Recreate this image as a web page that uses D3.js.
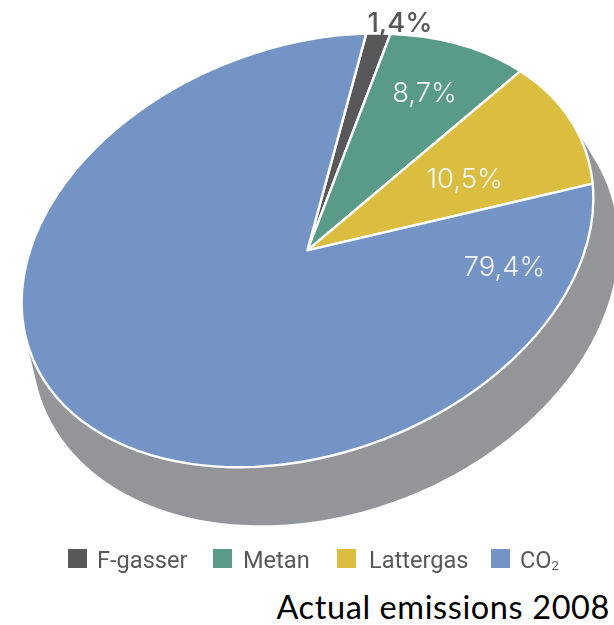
<!DOCTYPE html>
<html><head><meta charset="utf-8">
<script src="https://cdnjs.cloudflare.com/ajax/libs/d3/7.8.5/d3.min.js"></script>
<style>html,body{margin:0;padding:0;background:#fff;overflow:hidden}svg{display:block}</style>
</head><body><svg id="c" width="614" height="625"></svg>
<script>
const categories = ["F-gasser","Metan","Lattergas","CO2"];
const shares = [1.4,8.7,10.5,79.4];
const valueLabels = ["1,4%","8,7%","10,5%","79,4%"];
const colors = ["#58585a","#5a9a88","#dbbd3f","#7494c6"];
const caption = "Actual emissions 2008";

const topE={cx:307.4,cy:250.4,a:295.4,b:203.7,tilt:-20.36};
const botE={cx:325.1,cy:294.6,a:302.6,b:218,tilt:-21.13};
const startDeg=26.2;
const svg=d3.select("#c");
const defs=svg.append("defs");
defs.append("filter").attr("id","soft").append("feGaussianBlur").attr("stdDeviation",0.45);
const ring=e=>d3.range(0,360,1).map(t=>{const r=e.tilt*Math.PI/180,u=e.a*Math.cos(t*Math.PI/180),v=e.b*Math.sin(t*Math.PI/180);
  return [e.cx+u*Math.cos(r)-v*Math.sin(r),e.cy+u*Math.sin(r)+v*Math.cos(r)];});
const hull=d3.polygonHull([...ring(topE),...ring(botE)]);
svg.append("path").attr("d","M"+hull.join("L")+"Z").attr("fill","#939598");
const pie=d3.pie().sort(null).startAngle(startDeg*Math.PI/180).endAngle(startDeg*Math.PI/180+2*Math.PI);
const arc=d3.arc().innerRadius(0).outerRadius(1);
svg.append("g").attr("transform",`translate(${topE.cx},${topE.cy}) rotate(${topE.tilt}) scale(${topE.a},${topE.b})`)
 .selectAll("path").data(pie(shares)).join("path")
 .attr("d",arc).attr("fill",(d,i)=>colors[i])
 .attr("stroke","#fff").attr("stroke-width",2.4).attr("stroke-linejoin","round").attr("vector-effect","non-scaling-stroke");
const labelPos=[[400,32],[424.5,102],[464.5,188],[504.5,276]];
svg.append("g").attr("filter","url(#soft)").selectAll("text").data(valueLabels).join("text")
 .attr("x",(d,i)=>labelPos[i][0]).attr("y",(d,i)=>labelPos[i][1])
 .attr("text-anchor","middle").attr("font-family","Inter").attr("font-weight",(d,i)=>i==0?500:300).attr("font-size",27.5)
 .attr("fill",(d,i)=>i==0?"#58585a":"#f4f6f6").text(d=>d);
const legX=[68,213,337,491], txtX=[97,243,369,520];
const lg=svg.append("g").attr("filter","url(#soft)").selectAll("g").data(categories).join("g");
lg.append("rect").attr("x",(d,i)=>legX[i]).attr("y",549).attr("width",19).attr("height",19).attr("fill",(d,i)=>colors[i]);
const tx=lg.append("text").attr("x",(d,i)=>txtX[i]).attr("y",568).attr("font-family","Roboto").attr("font-weight",400)
 .attr("font-size",23.6).attr("fill","#58595b");
tx.text(d=>d==="CO2"?"CO":d);
tx.filter(d=>d==="CO2").append("tspan").attr("font-size",13).attr("dy",2).text("2");
svg.append("text").attr("x",610).attr("y",619).attr("text-anchor","end").attr("font-family","Lato")
 .attr("font-size",32.5).attr("letter-spacing",0.6).attr("fill","#000").text(caption);
</script></body></html>
